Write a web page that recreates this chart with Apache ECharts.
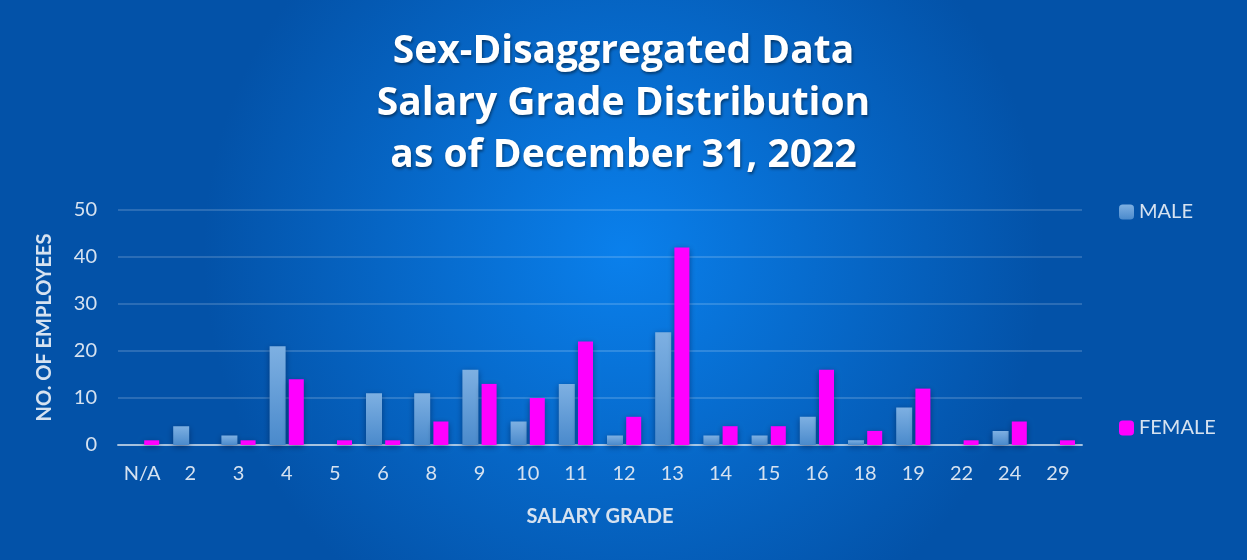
<!DOCTYPE html>
<html>
<head>
<meta charset="utf-8">
<script src="https://cdn.jsdelivr.net/npm/echarts@6/dist/echarts.min.js"></script>
<style>
  html, body { margin: 0; padding: 0; }
  #chart { width: 1247px; height: 560px; }
</style>
</head>
<body>
<div id="chart"></div>
<script>
// salary grades on the x axis
const grades = ['N/A', '2', '3', '4', '5', '6', '8', '9', '10', '11', '12', '13', '14', '15', '16', '18', '19', '22', '24', '29'];
// number of employees per grade
const male = [0, 4, 2, 21, 0, 11, 11, 16, 5, 13, 2, 24, 2, 2, 6, 1, 8, 0, 3, 0];
const female = [1, 0, 1, 14, 1, 1, 5, 13, 10, 22, 6, 42, 4, 4, 16, 3, 12, 1, 5, 1];

const textColor = '#d6e2f0';
const font = 'Lato, "Open Sans", sans-serif';

const chart = echarts.init(document.getElementById('chart'));
chart.setOption({
  backgroundColor: {
    type: 'radial', x: 0.5, y: 0.45, r: 0.75,
    colorStops: [
      { offset: 0, color: '#0a80ec' },
      { offset: 1, color: '#0352a8' }
    ]
  },
  title: {
    text: 'Sex-Disaggregated Data\nSalary Grade Distribution\nas of December 31, 2022',
    left: 'center',
    top: 21,
    textStyle: {
      color: '#ffffff',
      fontFamily: '"Open Sans", sans-serif',
      fontWeight: 'bold',
      fontSize: 39,
      lineHeight: 52,
      textShadowColor: 'rgba(0,0,0,0.45)',
      textShadowBlur: 3,
      textShadowOffsetX: 1,
      textShadowOffsetY: 2
    }
  },
  legend: {
    orient: 'vertical',
    left: 1114,
    top: 197,
    itemGap: 196,
    itemWidth: 15,
    itemHeight: 15,
    itemStyle: { shadowBlur: 0 },
    textStyle: { color: textColor, fontFamily: font, fontSize: 20 },
    data: ['MALE', 'FEMALE']
  },
  grid: { left: 118, right: 165, top: 210, bottom: 115 },
  xAxis: {
    type: 'category',
    data: grades,
    name: 'SALARY GRADE',
    nameLocation: 'middle',
    nameGap: 62,
    nameTextStyle: { color: textColor, fontFamily: font, fontSize: 20, fontWeight: 'bold' },
    axisLine: { lineStyle: { color: 'rgba(220,230,240,0.7)', width: 2 } },
    axisTick: { show: false },
    axisLabel: { color: textColor, fontFamily: font, fontSize: 20, margin: 19 }
  },
  yAxis: {
    type: 'value',
    min: 0,
    max: 50,
    interval: 10,
    name: 'NO. OF EMPLOYEES',
    nameLocation: 'middle',
    nameGap: 63,
    nameTextStyle: { color: textColor, fontFamily: font, fontSize: 20, fontWeight: 'bold' },
    axisLabel: { color: textColor, fontFamily: font, fontSize: 20, margin: 21 },
    splitLine: { lineStyle: { color: 'rgba(255,255,255,0.16)', width: 2 } }
  },
  series: [
    {
      name: 'MALE',
      type: 'bar',
      data: male,
      barWidth: 16,
      barGap: '20%',
      itemStyle: {
        color: {
          type: 'linear', x: 0, y: 0, x2: 0, y2: 1,
          colorStops: [
            { offset: 0, color: '#7eb0e2' },
            { offset: 1, color: '#4a8acc' }
          ]
        },
        shadowColor: 'rgba(0,20,60,0.5)',
        shadowBlur: 6,
        shadowOffsetY: 2
      }
    },
    {
      name: 'FEMALE',
      type: 'bar',
      data: female,
      barWidth: 15,
      itemStyle: {
        color: '#ff00ff',
        shadowColor: 'rgba(0,20,60,0.5)',
        shadowBlur: 6,
        shadowOffsetY: 2
      }
    }
  ]
});
</script>
</body>
</html>
